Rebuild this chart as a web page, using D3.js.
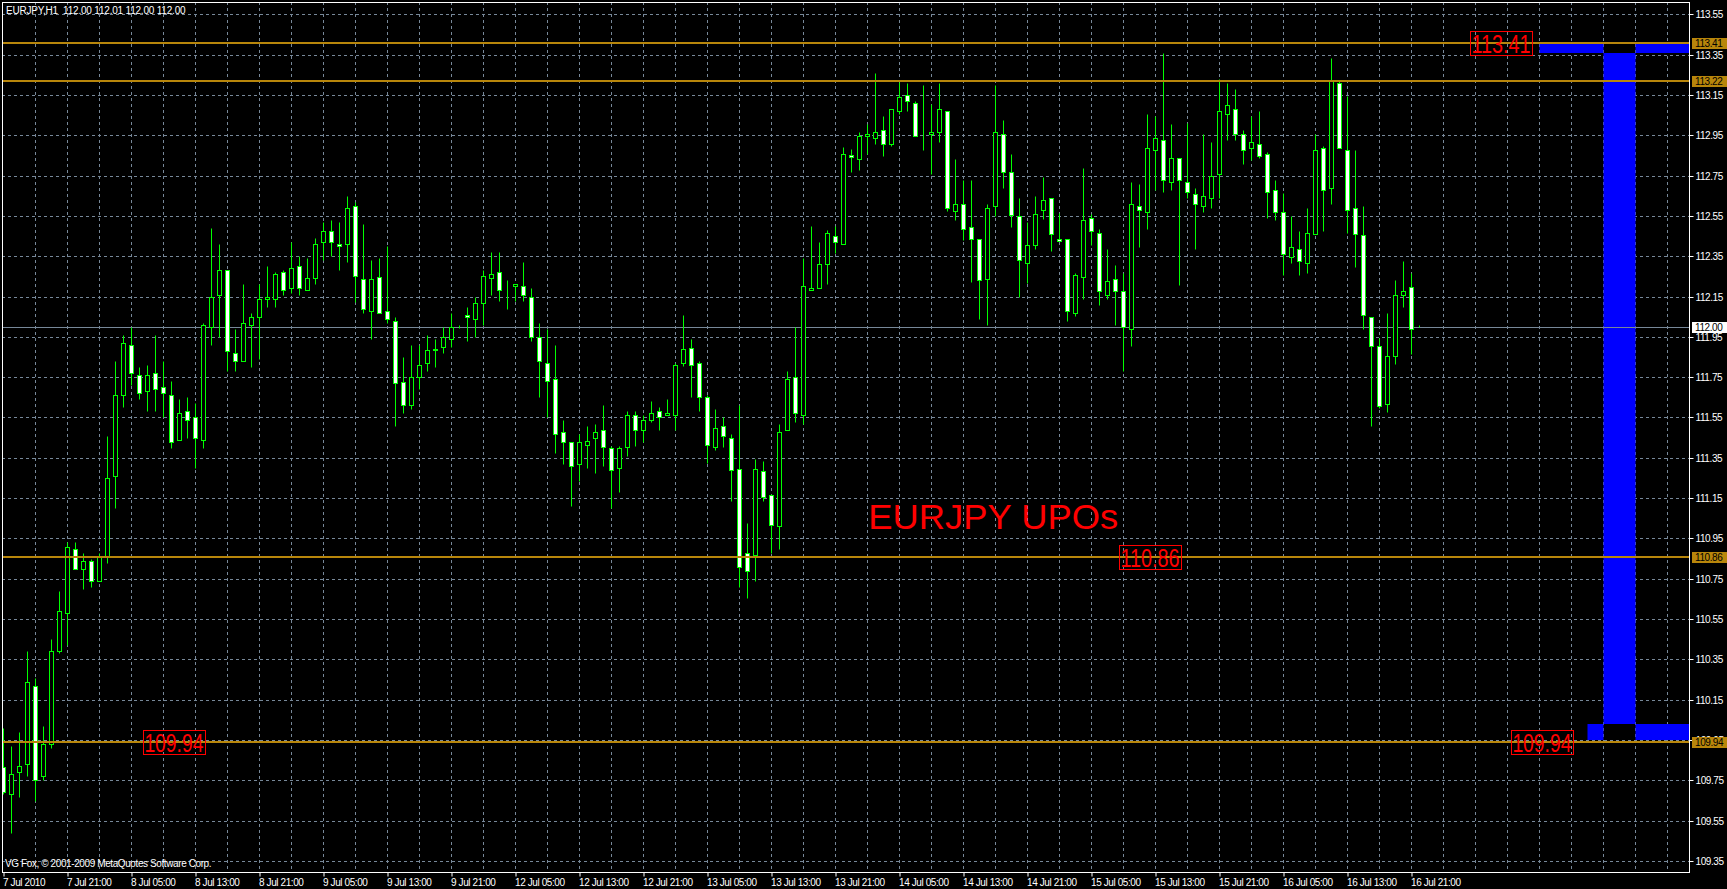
<!DOCTYPE html>
<html><head><meta charset="utf-8">
<script src="https://cdn.jsdelivr.net/npm/d3@7"></script>
<style>
html,body{margin:0;padding:0;background:#000;overflow:hidden}
svg{display:block}
text{font-family:"Liberation Sans",Arial,sans-serif}
</style></head><body>
<svg id="chart" width="1727" height="889"></svg>
<script>
// ---- DATA (EURJPY H1, 7 Jul 2010 13:00 .. 16 Jul 2010 22:00) ----
const opens = [109.815,109.68,109.79,109.83,110.22,109.77,109.93,110.39,110.58,110.90,110.80,110.84,110.74,110.86,111.26,111.66,111.91,111.76,111.68,111.77,111.70,111.66,111.44,111.58,111.55,111.44,112.00,112.16,112.28,111.87,111.83,112.01,112.05,112.14,112.14,112.27,112.19,112.30,112.18,112.24,112.42,112.475,112.41,112.41,112.60,112.235,112.08,112.245,112.08,112.03,111.725,111.61,111.75,111.82,111.885,111.90,111.94,112.004,112.06,112.04,112.12,112.24,112.27,112.19,112.20,112.20,112.15,111.95,111.82,111.74,111.48,111.43,111.32,111.415,111.45,111.49,111.40,111.30,111.405,111.56,111.49,111.54,111.58,111.56,111.56,111.82,111.895,111.82,111.65,111.405,111.51,111.45,111.295,110.88,110.87,111.285,111.165,111.01,111.49,111.75,111.56,112.18,112.19,112.31,112.45,112.41,112.85,112.83,112.945,112.935,112.975,112.905,113.07,113.15,113.11,112.955,112.955,112.965,113.07,112.575,112.61,112.494,112.435,112.236,112.60,112.956,112.767,112.549,112.317,112.407,112.58,112.64,112.437,112.435,112.068,112.246,112.539,112.466,112.157,112.236,112.179,111.99,112.598,112.569,112.878,112.928,112.719,112.838,112.719,112.66,112.60,112.64,112.759,113.057,113.08,112.956,112.888,112.908,112.858,112.68,112.57,112.347,112.385,112.317,112.458,112.888,112.69,113.209,112.878,112.59,112.455,112.048,111.906,111.618,111.856,112.157,112.197,112.00];
const highs = [110.01,109.92,109.99,110.39,110.26,110.02,110.45,110.69,110.93,110.93,110.88,110.85,110.88,111.46,111.83,111.96,112.00,111.80,111.81,111.96,111.83,111.73,111.64,111.65,111.62,112.02,112.49,112.41,112.28,111.99,112.21,112.07,112.21,112.30,112.27,112.28,112.42,112.35,112.34,112.44,112.52,112.53,112.52,112.65,112.62,112.51,112.33,112.34,112.40,112.05,111.85,111.91,111.91,111.96,111.94,112.00,112.07,112.01,112.10,112.15,112.28,112.37,112.37,112.23,112.21,112.32,112.19,112.02,111.99,111.91,111.54,111.43,111.47,111.51,111.52,111.61,111.41,111.41,111.58,111.58,111.56,111.63,111.60,111.64,111.82,112.06,111.94,111.83,111.66,111.59,111.55,111.47,111.61,111.025,111.345,111.335,111.17,111.52,111.78,112.00,112.34,112.50,112.42,112.48,112.50,112.89,112.88,112.965,113.005,113.26,113.045,113.08,113.215,113.21,113.12,113.20,113.105,113.21,113.07,112.83,112.73,112.73,112.435,112.61,113.20,113.027,112.858,112.64,112.518,112.651,112.742,112.64,112.565,112.435,112.268,112.79,112.56,112.486,112.387,112.307,112.268,112.72,112.709,113.057,113.048,113.36,113.007,112.838,113.01,112.69,112.957,112.918,113.23,113.21,113.18,112.977,113.048,113.071,112.868,112.729,112.666,112.55,112.476,112.59,112.957,112.898,113.331,113.22,113.143,112.878,112.60,112.048,111.942,112.07,112.23,112.327,112.268,112.01];
const lows = [109.68,109.49,109.67,109.77,109.65,109.75,109.91,110.38,110.42,110.80,110.70,110.71,110.74,110.83,111.10,111.60,111.71,111.64,111.58,111.58,111.55,111.40,111.44,111.45,111.30,111.40,111.91,111.95,111.78,111.78,111.83,111.80,111.84,112.10,112.10,112.16,112.17,112.16,112.18,112.21,112.33,112.35,112.28,112.32,112.125,112.07,111.94,112.07,112.02,111.51,111.57,111.59,111.69,111.78,111.80,111.87,111.90,111.995,111.93,111.95,112.01,112.16,112.13,112.09,112.13,112.13,111.93,111.65,111.55,111.375,111.32,111.11,111.235,111.30,111.275,111.31,111.10,111.18,111.36,111.41,111.43,111.53,111.49,111.56,111.49,111.805,111.65,111.58,111.325,111.39,111.405,111.135,110.71,110.655,110.74,111.135,110.88,110.90,111.49,111.53,111.52,112.18,112.19,112.21,112.365,112.41,112.77,112.78,112.855,112.905,112.845,112.895,113.055,113.07,112.945,112.875,112.76,112.915,112.575,112.53,112.43,112.22,112.04,112.01,112.55,112.688,112.494,112.147,112.217,112.384,112.536,112.375,112.427,112.028,112.055,112.137,112.405,112.106,112.137,112.007,111.78,111.904,112.395,112.484,112.676,112.668,112.68,112.207,112.64,112.385,112.569,112.59,112.64,112.928,112.928,112.807,112.825,112.838,112.539,112.529,112.256,112.317,112.256,112.268,112.458,112.475,112.61,112.888,112.465,112.296,111.99,111.507,111.597,111.577,111.816,112.098,111.866,112.00];
const closes = [109.69,109.78,109.82,110.24,109.75,109.93,110.39,110.59,110.91,110.80,110.84,110.74,110.86,111.25,111.66,111.92,111.77,111.67,111.76,111.69,111.67,111.43,111.57,111.54,111.45,112.01,112.15,112.28,111.88,111.83,112.02,112.05,112.14,112.15,112.26,112.18,112.29,112.19,112.24,112.41,112.475,112.42,112.40,112.59,112.25,112.09,112.235,112.07,112.04,111.72,111.61,111.75,111.81,111.885,111.888,111.95,112.00,112.006,112.05,112.12,112.25,112.26,112.18,112.19,112.21,112.16,111.95,111.83,111.73,111.47,111.43,111.31,111.43,111.435,111.48,111.405,111.29,111.40,111.56,111.49,111.54,111.57,111.55,111.57,111.81,111.89,111.81,111.65,111.415,111.50,111.46,111.29,110.81,110.79,111.295,111.155,111.015,111.48,111.74,111.57,112.20,112.19,112.31,112.465,112.42,112.855,112.84,112.945,112.955,112.965,112.905,113.08,113.14,113.12,112.945,112.955,112.965,113.08,112.59,112.61,112.486,112.437,112.23,112.59,112.967,112.77,112.552,112.329,112.405,112.559,112.63,112.458,112.427,112.08,112.258,112.53,112.476,112.179,112.228,112.179,112.00,112.61,112.58,112.888,112.938,112.729,112.838,112.729,112.67,112.61,112.65,112.749,113.071,113.10,112.957,112.878,112.918,112.848,112.67,112.569,112.359,112.395,112.327,112.465,112.878,112.68,113.219,112.888,112.58,112.458,112.06,111.907,111.608,111.856,112.157,112.177,111.99,112.00];

const timeLabels = ["7 Jul 2010","7 Jul 21:00","8 Jul 05:00","8 Jul 13:00","8 Jul 21:00","9 Jul 05:00","9 Jul 13:00","9 Jul 21:00","12 Jul 05:00","12 Jul 13:00","12 Jul 21:00","13 Jul 05:00","13 Jul 13:00","13 Jul 21:00","14 Jul 05:00","14 Jul 13:00","14 Jul 21:00","15 Jul 05:00","15 Jul 13:00","15 Jul 21:00","16 Jul 05:00","16 Jul 13:00","16 Jul 21:00"];
const timeLabelBars = [0,8,16,24,32,40,48,56,64,72,80,88,96,104,112,120,128,136,144,152,160,168,176];
const priceTicks = [113.55,113.35,113.15,112.95,112.75,112.55,112.35,112.15,111.95,111.75,111.55,111.35,111.15,110.95,110.75,110.55,110.35,110.15,109.95,109.75,109.55,109.35];

const levelPrices = [113.41, 113.22, 110.86, 109.94];
const currentPrice = 112.00;
const headerText = "EURJPY,H1  112.00 112.01 112.00 112.00";
const copyrightText = "VG Fox, \u00A9 2001-2009 MetaQuotes Software Corp.";
const titleText = "EURJPY UPOs";
const titleBar = 108.1, titlePrice = 110.995;

// red price tags on chart (bar anchor, price)
const tagPrices = [113.41, 110.86, 109.94, 109.94];
const tagBars   = [187.2, 143.3, 21.3, 192.3];

// blue zone rectangles (bar from, bar to, price low, price high)
const zoneBarFrom = [192, 204, 200, 198, 204];
const zoneBarTo   = [200, 215, 204, 200, 215];
const zoneLow     = [113.357, 113.357, 110.03, 109.95, 109.95];
const zoneHigh    = [113.41, 113.41, 113.357, 110.03, 110.03];

// ---- CHART ----
const svg = d3.select("#chart");
const W = 1727, H = 889;
const L = 2, T = 2, R = 1689, B = 872;
const GRID = "#778899", GOLD = "#B8860B", LIME = "#00FF00";

svg.append("rect").attr("width", W).attr("height", H).attr("fill", "#000");

const x = d3.scaleLinear().domain([0, 1]).range([3.5, 11.5]);
const y = d3.scaleLinear().domain([109.2955, 113.611]).range([B, T]);
const py = v => Math.round(y(v)) + 0.5;

svg.append("clipPath").attr("id", "plot").append("rect")
  .attr("x", L + 1).attr("y", T + 1).attr("width", R - L - 1).attr("height", B - T - 1);
const g = svg.append("g").attr("clip-path", "url(#plot)");

// grid
const gridBars = d3.range(4, 212, 4);
g.append("g").selectAll("line").data(gridBars).join("line")
  .attr("x1", d => x(d)).attr("x2", d => x(d))
  .attr("y1", T).attr("y2", B)
  .attr("stroke", GRID).attr("stroke-width", 1).attr("stroke-dasharray", "3,3");
g.append("g").selectAll("line").data(priceTicks).join("line")
  .attr("x1", L).attr("x2", R)
  .attr("y1", d => py(d)).attr("y2", d => py(d))
  .attr("stroke", GRID).attr("stroke-width", 1).attr("stroke-dasharray", "3,3");

// blue zones
g.append("g").selectAll("rect").data(zoneBarFrom.map((d, i) => i)).join("rect")
  .attr("x", i => x(zoneBarFrom[i]))
  .attr("width", i => x(zoneBarTo[i]) - x(zoneBarFrom[i]))
  .attr("y", i => Math.round(y(zoneHigh[i])))
  .attr("height", i => Math.round(y(zoneLow[i])) - Math.round(y(zoneHigh[i])))
  .attr("fill", "#0000FF");

// current price line
g.append("line").attr("x1", L).attr("x2", R)
  .attr("y1", py(currentPrice)).attr("y2", py(currentPrice))
  .attr("stroke", GRID).attr("stroke-width", 1);

// candles
const idx = d3.range(opens.length);
const cg = g.append("g");
cg.selectAll("line").data(idx).join("line")
  .attr("x1", i => x(i)).attr("x2", i => x(i))
  .attr("y1", i => py(highs[i])).attr("y2", i => py(lows[i]))
  .attr("stroke", LIME).attr("stroke-width", 1);
cg.selectAll("rect").data(idx).join("rect")
  .attr("x", i => x(i) - 2).attr("width", 4)
  .attr("y", i => py(Math.max(opens[i], closes[i])))
  .attr("height", i => py(Math.min(opens[i], closes[i])) - py(Math.max(opens[i], closes[i])))
  .attr("fill", i => closes[i] >= opens[i] ? "#000" : "#FFF")
  .attr("stroke", LIME).attr("stroke-width", 1);

// horizontal level lines
g.append("g").selectAll("line").data(levelPrices).join("line")
  .attr("x1", L).attr("x2", R)
  .attr("y1", d => Math.round(y(d))).attr("y2", d => Math.round(y(d)))
  .attr("stroke", GOLD).attr("stroke-width", 2);

// red tags
const tg = g.append("g");
tagPrices.forEach((p, i) => {
  const cx = x(tagBars[i]), cy = Math.round(y(p));
  tg.append("rect").attr("x", Math.round(cx - 31) + 0.5).attr("y", cy - 11.5)
    .attr("width", 62).attr("height", 24).attr("fill", "none")
    .attr("stroke", "#FF0000").attr("stroke-width", 1);
  tg.append("text").attr("x", cx).attr("y", cy + 9.5)
    .attr("text-anchor", "middle").attr("fill", "#FF0000")
    .attr("font-size", 25).attr("textLength", 59).attr("lengthAdjust", "spacingAndGlyphs")
    .text(p.toFixed(2));
});

// title text
g.append("text").attr("x", x(titleBar)).attr("y", y(titlePrice))
  .attr("fill", "#FF0000").attr("font-size", 35)
  .attr("textLength", 250).attr("lengthAdjust", "spacingAndGlyphs")
  .text(titleText);

// header + copyright
svg.append("text").attr("x", 6).attr("y", 14).attr("fill", "#FFF")
  .attr("font-size", 10).style("white-space", "pre").attr("letter-spacing", -0.2)
  .text(headerText);
svg.append("text").attr("x", 5).attr("y", 867).attr("fill", "#FFF")
  .attr("font-size", 10).attr("letter-spacing", -0.4)
  .text(copyrightText);

// border
svg.append("rect").attr("x", L + 0.5).attr("y", T + 0.5)
  .attr("width", R - L).attr("height", B - T)
  .attr("fill", "none").attr("stroke", "#FFF").attr("stroke-width", 1);

// y axis (right)
const yAxis = d3.axisRight(y).tickValues(priceTicks).tickFormat(d3.format(".2f")).tickSize(4).tickPadding(2);
const ya = svg.append("g").attr("transform", `translate(${R + 0.5},0)`).call(yAxis);
ya.select(".domain").remove();
ya.selectAll(".tick").attr("transform", d => `translate(0,${py(d)})`);
ya.selectAll(".tick line").attr("stroke", "#FFF");
ya.selectAll(".tick text").attr("fill", "#FFF").attr("font-size", 10)
  .attr("letter-spacing", -0.4).attr("font-family", "Liberation Sans, Arial, sans-serif");

// x axis (bottom)
const xAxis = d3.axisBottom(x).tickValues(timeLabelBars)
  .tickFormat((d, i) => timeLabels[i]).tickSize(4).tickPadding(2);
const xa = svg.append("g").attr("transform", `translate(0,${B + 0.5})`).call(xAxis);
xa.select(".domain").remove();
xa.selectAll(".tick line").attr("stroke", "#FFF");
xa.selectAll(".tick text").attr("fill", "#FFF").attr("font-size", 10)
  .attr("text-anchor", "start").attr("dx", -1).attr("letter-spacing", -0.4)
  .attr("font-family", "Liberation Sans, Arial, sans-serif");

// right-axis price tags
const tagData = levelPrices.map(p => ({p, bg: GOLD, fg: "#000"})).concat([{p: currentPrice, bg: "#FFF", fg: "#000"}]);
const rt = svg.append("g");
tagData.forEach(t => {
  const cy = Math.round(y(t.p));
  rt.append("rect").attr("x", R + 3).attr("y", cy - 5).attr("width", 35).attr("height", 11).attr("fill", t.bg);
  rt.append("text").attr("x", R + 6).attr("y", cy + 4).attr("fill", t.fg)
    .attr("font-size", 10).attr("letter-spacing", -0.4).text(t.p.toFixed(2));
});
</script>
</body></html>
